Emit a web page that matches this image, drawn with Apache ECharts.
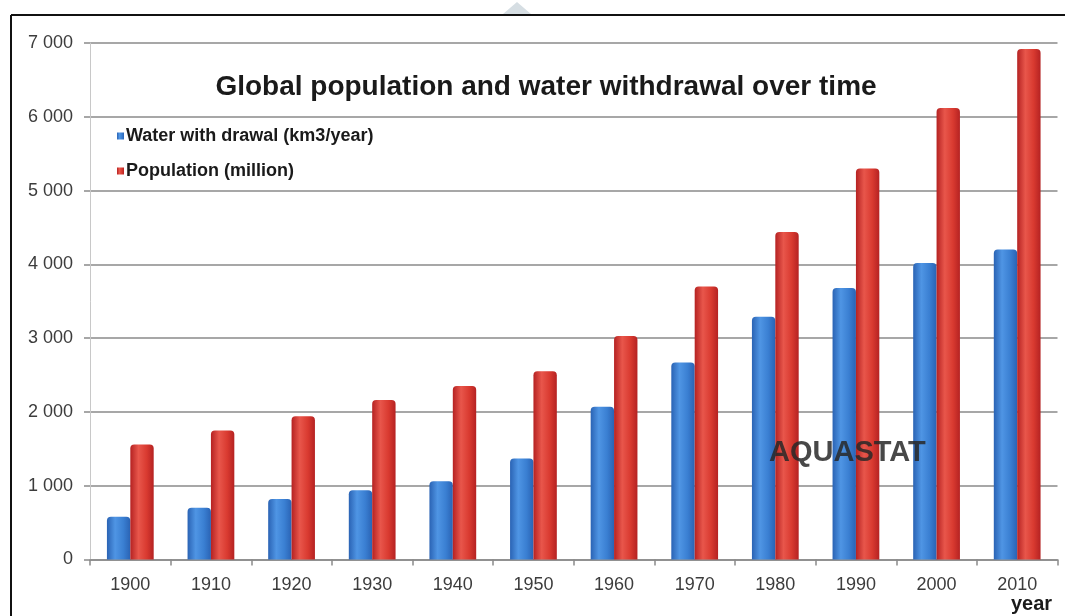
<!DOCTYPE html>
<html>
<head>
<meta charset="utf-8">
<style>
  html, body { margin: 0; padding: 0; background: #ffffff; }
  #chart { width: 1065px; height: 616px; }
</style>
<script src="https://cdn.jsdelivr.net/npm/echarts@6/dist/echarts.min.js"></script>
</head>
<body>
<div id="chart"></div>
<script>
// Decades on the category axis
const years = ['1900', '1910', '1920', '1930', '1940', '1950', '1960', '1970', '1980', '1990', '2000', '2010'];
// Global water withdrawal, km3 per year
const waterWithdrawal = [580, 700, 820, 940, 1060, 1370, 2070, 2670, 3290, 3680, 4020, 4200];
// World population, million
const population = [1560, 1750, 1940, 2160, 2350, 2550, 3030, 3700, 4440, 5300, 6120, 6920];
// Value-axis ticks
const yTicks = [0, 1000, 2000, 3000, 4000, 5000, 6000, 7000];

const seriesNames = ['Water with drawal (km3/year)', 'Population (million)'];
const font = 'Liberation Sans, Arial, sans-serif';

// Horizontal gradient that gives each bar a rounded, cylinder-like shading
function cylinder(dark, mid, light) {
  return new echarts.graphic.LinearGradient(0, 0, 1, 0, [
    { offset: 0, color: dark },
    { offset: 0.35, color: light },
    { offset: 0.7, color: mid },
    { offset: 1, color: dark }
  ]);
}

const chart = echarts.init(document.getElementById('chart'), null, { renderer: 'canvas' });

chart.setOption({
  backgroundColor: '#ffffff',
  animation: false,
  title: {
    text: 'Global population and water withdrawal over time',
    left: 541,
    top: 68,
    textAlign: 'center',
    textStyle: { fontFamily: font, fontSize: 28, fontWeight: 'bold', color: '#1a1a1a' }
  },
  legend: {
    orient: 'vertical',
    left: 112,
    top: 122,
    itemWidth: 7,
    itemHeight: 7,
    itemGap: 17,
    icon: 'rect',
    data: seriesNames,
    textStyle: { fontFamily: font, fontSize: 18, fontWeight: 'bold', color: '#1a1a1a', padding: [0, 0, 0, -3] }
  },
  grid: { left: 90, right: 7.5, top: 43, bottom: 56.5, containLabel: false },
  xAxis: {
    type: 'category',
    data: years,
    axisLine: { lineStyle: { color: '#8a8a8a', width: 1.5 } },
    axisTick: { show: true, length: 6, lineStyle: { color: '#8a8a8a', width: 1.5 } },
    axisLabel: { fontFamily: font, fontSize: 18, color: '#3c3c3c', margin: 17 }
  },
  yAxis: {
    type: 'value',
    min: yTicks[0],
    max: yTicks[yTicks.length - 1],
    interval: 1000,
    axisLine: { show: true, lineStyle: { color: '#c8c8c8', width: 1 } },
    axisTick: { show: true, length: 6, lineStyle: { color: '#8a8a8a', width: 1.5 } },
    axisLabel: {
      fontFamily: font, fontSize: 18, color: '#3c3c3c', margin: 17,
      formatter: v => v >= 1000 ? Math.floor(v / 1000) + ' ' + String(v % 1000).padStart(3, '0') : String(v)
    },
    splitLine: { lineStyle: { color: '#8a8a8a', width: 1.5 } }
  },
  series: [
    {
      name: seriesNames[0],
      type: 'bar',
      data: waterWithdrawal,
      barGap: '0%',
      barCategoryGap: '42%',
      itemStyle: {
        color: cylinder('#2a63b4', '#3a7fd2', '#4f95e4'),
        borderRadius: [4, 4, 0, 0]
      }
    },
    {
      name: seriesNames[1],
      type: 'bar',
      data: population,
      itemStyle: {
        color: cylinder('#b52222', '#d93a30', '#e8564b'),
        borderRadius: [4, 4, 0, 0]
      }
    }
  ],
  graphic: [
    // page frame
    { type: 'line', shape: { x1: 11, y1: 15, x2: 1065, y2: 15 }, style: { stroke: '#111', lineWidth: 2 } },
    { type: 'line', shape: { x1: 11, y1: 15, x2: 11, y2: 616 }, style: { stroke: '#111', lineWidth: 2 } },
    { type: 'polygon', shape: { points: [[503, 14], [517, 2], [531, 14]] }, style: { fill: '#d6dee3' } },
    // source watermark
    {
      type: 'text', left: 769, top: 438, z: 10,
      style: { text: 'AQUASTAT', fill: 'rgba(40,40,40,0.85)', font: 'bold 29px ' + font }
    },
    // category axis name
    {
      type: 'text', left: 1011, top: 594,
      style: { text: 'year', fill: '#1a1a1a', font: 'bold 20px ' + font }
    }
  ]
});
</script>
</body>
</html>
